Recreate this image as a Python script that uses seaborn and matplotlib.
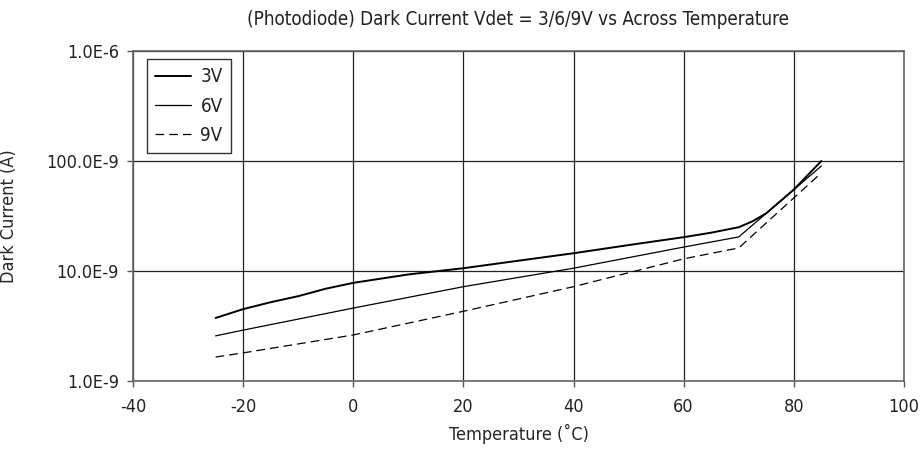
import numpy as np
import pandas as pd
import matplotlib
matplotlib.use("Agg")
import matplotlib.pyplot as plt
import seaborn as sns
from matplotlib import font_manager

# -------------------
# DATA
# -------------------
temp_3v = [-25, -20, -15, -10, -5, 0, 10, 20, 30, 40, 50, 60, 65, 70, 72.5, 75, 80, 85]
cur_3v = [3.74e-9, 4.5e-9, 5.2e-9, 5.9e-9, 6.9e-9, 7.8e-9, 9.3e-9, 10.6e-9, 12.4e-9,
          14.5e-9, 17.2e-9, 20.3e-9, 22.3e-9, 25e-9, 28.3e-9, 33.5e-9, 55e-9, 100e-9]

temp_6v = [-25, -20, 0, 20, 40, 60, 70, 85]
cur_6v = [2.57e-9, 2.9e-9, 4.6e-9, 7.2e-9, 10.6e-9, 16.5e-9, 20.4e-9, 90e-9]

temp_9v = [-25, -20, 0, 20, 40, 60, 70, 85]
cur_9v = [1.65e-9, 1.8e-9, 2.62e-9, 4.3e-9, 7.2e-9, 12.9e-9, 16.2e-9, 78e-9]

x_ticks = [-40, -20, 0, 20, 40, 60, 80, 100]
y_ticks = [1e-9, 1e-8, 1e-7, 1e-6]
y_labels = ["1.0E-9", "10.0E-9", "100.0E-9", "1.0E-6"]

# -------------------
# STYLE
# -------------------
sns.set_style("white")
names = {f.name for f in font_manager.fontManager.ttflist}
families = [n for n in ["Liberation Sans Narrow", "DejaVu Sans Condensed"] if n in names]
plt.rcParams["font.family"] = families + ["DejaVu Sans"]
plt.rcParams["font.stretch"] = "condensed"
plt.rcParams["text.color"] = "#222222"

fig = plt.figure(figsize=(9.21, 4.53), dpi=100)
ax = fig.add_axes([0.1444, 0.159, 0.8371, 0.7284])

sns.lineplot(x=temp_3v, y=cur_3v, ax=ax, color="black", linewidth=1.4, label="3V")
sns.lineplot(x=temp_6v, y=cur_6v, ax=ax, color="black", linewidth=0.9, label="6V")
sns.lineplot(x=temp_9v, y=cur_9v, ax=ax, color="black", linewidth=0.9, label="9V")
ax.lines[2].set_dashes([7, 4])

ax.set_yscale("log")
ax.set_xlim(-40, 100)
ax.set_ylim(1e-9, 1e-6)
ax.set_xticks(x_ticks)
ax.set_xticklabels([str(t) for t in x_ticks])
ax.set_yticks(y_ticks)
ax.set_yticklabels(y_labels)
ax.minorticks_off()

ax.grid(True, color="#222222", linewidth=0.9)
for side, sp in ax.spines.items():
    sp.set_color("#666666")
    sp.set_linewidth(1.2)

ax.tick_params(axis="both", direction="out", length=4, width=1, color="#555555",
               labelsize=13, bottom=True, left=True, labelcolor="#222222")
ax.tick_params(axis="x", pad=8)
ax.tick_params(axis="y", pad=6)

ax.set_xlabel("Temperature (˚C)", fontsize=13, labelpad=6)
ax.set_ylabel("Dark Current (A)", fontsize=13)
ax.yaxis.set_label_coords(-0.149, 0.5)
ax.set_title("(Photodiode) Dark Current Vdet = 3/6/9V vs Across Temperature",
             fontsize=13.5, pad=19)

leg = ax.legend(loc="upper left", bbox_to_anchor=(0.0182, 0.976), borderaxespad=0,
                fontsize=13.5, frameon=True, fancybox=False, edgecolor="black",
                handlelength=1.9, borderpad=0.45, labelspacing=0.55,
                handletextpad=0.5)
leg.get_frame().set_linewidth(1.0)

fig.savefig("out.png", dpi=100)
